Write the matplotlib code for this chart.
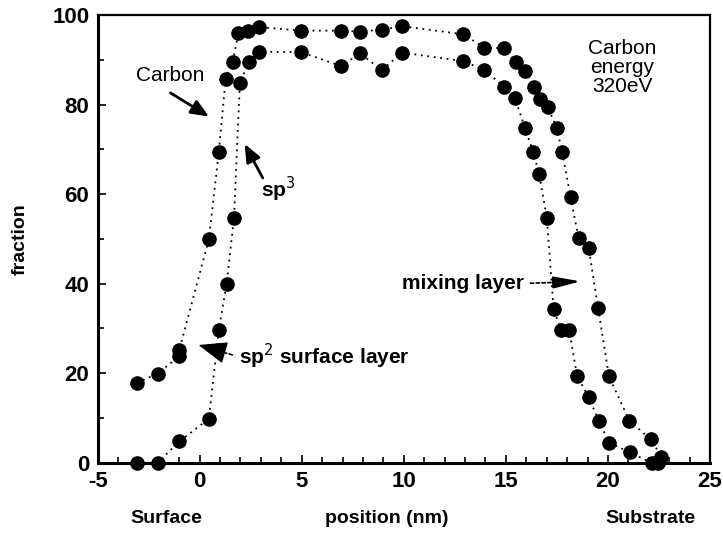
import matplotlib
matplotlib.use('Agg')
import matplotlib.pyplot as plt
from matplotlib.ticker import MultipleLocator

plt.rcParams['font.family'] = ['Liberation Sans', 'DejaVu Sans']
plt.rcParams['axes.unicode_minus'] = False

# total carbon fraction
carbon_x = [-3.07, -2.06, -1.0, -1.0, 0.45, 0.94, 1.27, 1.62, 1.9, 2.35, 2.9,
            4.96, 6.93, 7.85, 8.93, 9.91, 12.91, 13.95, 14.93, 15.49, 15.94,
            16.36, 16.65, 17.06, 17.5, 17.76, 18.17, 18.56, 19.06, 19.52,
            20.05, 21.05, 22.1, 22.62, 22.45]
carbon_y = [17.9, 19.9, 23.8, 25.2, 49.9, 69.5, 85.6, 89.6, 95.9, 96.5, 97.3,
            96.5, 96.5, 96.3, 96.7, 97.5, 95.7, 92.7, 92.6, 89.4, 87.6,
            83.9, 81.2, 79.4, 74.7, 69.3, 59.4, 50.2, 47.9, 34.5,
            19.3, 9.4, 5.2, 1.4, 0.0]

# sp3 fraction
sp3_x = [-3.07, -2.06, -0.99, 0.45, 0.94, 1.32, 1.68, 1.97, 2.42, 2.9,
         4.96, 6.93, 7.85, 8.93, 9.91, 12.91, 13.95, 14.93, 15.45, 15.94,
         16.33, 16.63, 17.01, 17.34, 17.7, 18.1, 18.49, 19.06, 19.55, 20.05,
         21.08, 22.14]
sp3_y = [0.0, 0.0, 4.8, 9.8, 29.7, 40.0, 54.6, 84.8, 89.6, 91.8,
         91.7, 88.6, 91.4, 87.7, 91.6, 89.7, 87.7, 83.9, 81.4, 74.7,
         69.5, 64.5, 54.6, 34.3, 29.7, 29.7, 19.4, 14.6, 9.4, 4.5,
         2.3, 0.0]

fig = plt.figure(figsize=(7.23, 5.35), dpi=100)
ax = fig.add_axes([0.135, 0.135, 0.847, 0.837])

for xs, ys in [(carbon_x, carbon_y), (sp3_x, sp3_y)]:
    ax.plot(xs, ys, color='black', lw=1.3, ls=(0, (1, 2.6)), clip_on=False)
    ax.plot(xs, ys, 'o', color='black', ms=9.5, clip_on=False, ls='none')

ax.set_xlim(-5, 25)
ax.set_ylim(0, 100)
ax.xaxis.set_major_locator(MultipleLocator(5))
ax.xaxis.set_minor_locator(MultipleLocator(1))
ax.yaxis.set_major_locator(MultipleLocator(20))
ax.yaxis.set_minor_locator(MultipleLocator(10))
ax.tick_params(which='both', direction='in', top=False, right=False,
               width=1.2, labelsize=16, pad=6)
ax.tick_params(which='major', length=6)
ax.tick_params(which='minor', length=4)
for lab in ax.get_xticklabels() + ax.get_yticklabels():
    lab.set_fontweight('bold')
for sp in ax.spines.values():
    sp.set_linewidth(1.6)
ax.spines['left'].set_linewidth(2.2)
ax.spines['bottom'].set_linewidth(2.2)

fig.text(0.028, 0.553, 'fraction', rotation=90, ha='center', va='center',
         fontsize=14, fontweight='bold')
fig.text(0.535, 0.03, 'position (nm)', ha='center', va='center',
         fontsize=14, fontweight='bold')
fig.text(0.23, 0.03, 'Surface', ha='center', va='center',
         fontsize=14, fontweight='bold')
fig.text(0.899, 0.03, 'Substrate', ha='center', va='center',
         fontsize=14, fontweight='bold')

ax.text(20.7, 88.3, 'Carbon\nenergy\n320eV', ha='center', va='center',
        fontsize=15, linespacing=1.0)

# annotation labels
ax.text(-1.43, 86.4, 'Carbon', ha='center', va='center', fontsize=15)
ax.text(3.0, 61.0, 'sp$^3$', ha='left', va='center', fontsize=15,
        fontweight='bold')
ax.text(1.92, 23.7, 'sp$^2$ surface layer', ha='left', va='center',
        fontsize=15, fontweight='bold')
ax.text(15.87, 40.1, 'mixing layer', ha='right', va='center',
        fontsize=15, fontweight='bold')

# arrows
solid = dict(arrowstyle='-|>,head_length=0.6,head_width=0.25', color='black',
             lw=2, mutation_scale=18, shrinkA=0, shrinkB=0)
ax.annotate('', xy=(0.46, 77.3), xytext=(-1.43, 82.6), arrowprops=solid)
ax.annotate('', xy=(2.2, 71.2), xytext=(3.09, 63.6), arrowprops=solid)

# dashed shafts with solid heads
shaft = dict(arrowstyle='-', color='black', lw=1.2, ls=(0, (2, 1.5)),
             shrinkA=0, shrinkB=0)
ax.annotate('', xy=(0.6, 25.4), xytext=(1.6, 24.1), arrowprops=shaft)
ax.annotate('', xy=(-0.06, 26.3), xytext=(0.7, 25.3),
            arrowprops=dict(arrowstyle='-|>,head_length=0.9,head_width=0.35',
                            color='black', lw=1, mutation_scale=20,
                            shrinkA=0, shrinkB=0))
ax.annotate('', xy=(17.6, 40.3), xytext=(16.2, 40.1), arrowprops=shaft)
ax.annotate('', xy=(18.65, 40.5), xytext=(17.5, 40.3),
            arrowprops=dict(arrowstyle='-|>,head_length=0.9,head_width=0.2',
                            color='black', lw=1.5, mutation_scale=18,
                            shrinkA=0, shrinkB=0))

fig.savefig('out.png', dpi=100)
